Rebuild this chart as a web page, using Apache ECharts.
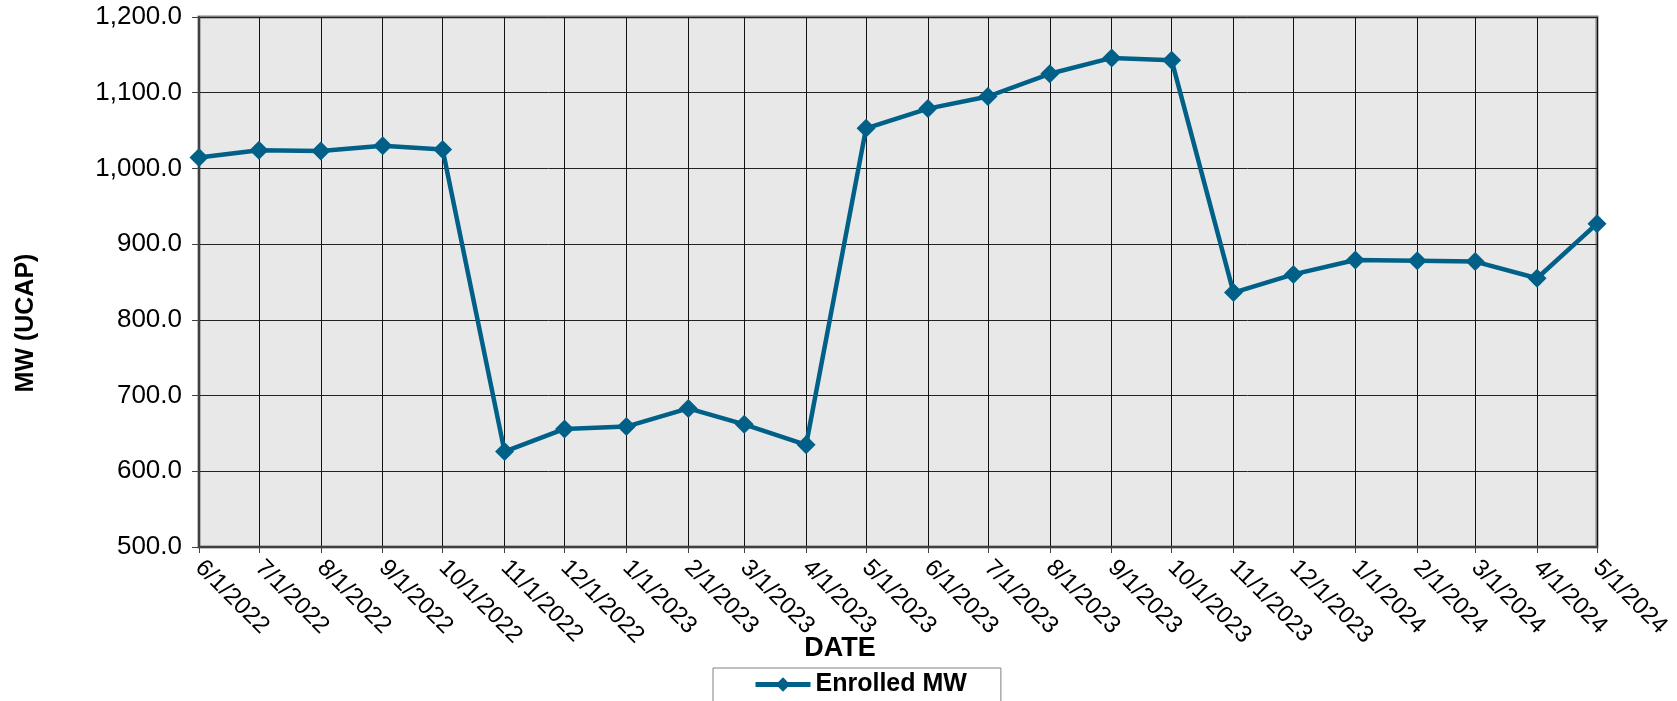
<!DOCTYPE html>
<html>
<head>
<meta charset="utf-8">
<script src="https://cdn.jsdelivr.net/npm/echarts@6/dist/echarts.min.js"></script>
<style>
html,body{margin:0;padding:0;background:#fff;}
#chart{width:1677px;height:701px;}
</style>
</head>
<body>
<div id="chart"></div>
<script>
const dates = ['2022-06-01','2022-07-01','2022-08-01','2022-09-01','2022-10-01','2022-11-01','2022-12-01',
  '2023-01-01','2023-02-01','2023-03-01','2023-04-01','2023-05-01','2023-06-01','2023-07-01','2023-08-01',
  '2023-09-01','2023-10-01','2023-11-01','2023-12-01','2024-01-01','2024-02-01','2024-03-01','2024-04-01','2024-05-01'];
const enrolledMW = [1014.5, 1024, 1023, 1030, 1025, 626, 656, 659, 683, 662, 635, 1053, 1079, 1095, 1125,
  1146, 1143, 836, 860, 879, 878, 877, 855, 927];
const seriesName = 'Enrolled MW';
const yAxisTitle = 'MW (UCAP)';
const xAxisTitle = 'DATE';

const DAY = 86400000;
const chart = echarts.init(document.getElementById('chart'));
const font = '"Liberation Sans", Arial, sans-serif';
chart.setOption({
  animation: false,
  backgroundColor: '#ffffff',
  grid: {
    left: 199, right: 80, top: 17, bottom: 154,
    show: true, backgroundColor: '#e8e8e8', borderColor: '#808080', borderWidth: 3
  },
  xAxis: {
    type: 'time',
    min: '2022-06-01', max: '2024-05-01',
    splitNumber: 23,
    minInterval: 28 * DAY,
    maxInterval: 31 * DAY,
    axisLine: { show: true, lineStyle: { color: '#404040', width: 2 } },
    axisTick: { show: true, length: 6, lineStyle: { color: '#404040', width: 1 } },
    splitLine: { show: true, lineStyle: { color: '#111111', width: 1 } },
    axisLabel: {
      rotate: -45, margin: 17, color: '#000', fontFamily: font, fontSize: 24,
      showMinLabel: true, showMaxLabel: true, hideOverlap: false,
      formatter: function (v) {
        const d = new Date(v);
        return (d.getMonth() + 1) + '/' + d.getDate() + '/' + d.getFullYear();
      }
    }
  },
  yAxis: {
    type: 'value', min: 500, max: 1200, interval: 100,
    axisLine: { show: true, lineStyle: { color: '#404040', width: 2 } },
    axisTick: { show: true, length: 7, lineStyle: { color: '#404040', width: 1 } },
    splitLine: { show: true, lineStyle: { color: '#222222', width: 1 } },
    axisLabel: {
      margin: 17, color: '#000', fontFamily: font, fontSize: 26,
      formatter: function (v) {
        return v.toLocaleString('en-US', { minimumFractionDigits: 1, maximumFractionDigits: 1 });
      }
    }
  },
  legend: {
    show: true, left: 713, top: 668,
    padding: [4, 34, 12, 40],
    borderColor: '#808080', borderWidth: 1, backgroundColor: '#ffffff',
    itemWidth: 55, itemHeight: 18, itemGap: 5,
    lineStyle: { width: 5 },
    textStyle: { fontFamily: font, fontSize: 25, fontWeight: 'bold', color: '#000' },
    data: [seriesName]
  },
  graphic: [
    { type: 'text', x: 26, y: 323, rotation: Math.PI / 2,
      style: { text: yAxisTitle, font: 'bold 25px ' + font, fill: '#000', align: 'center', verticalAlign: 'middle' } },
    { type: 'text', x: 840, y: 649,
      style: { text: xAxisTitle, font: 'bold 27px ' + font, fill: '#000', align: 'center', verticalAlign: 'middle' } }
  ],
  series: [{
    name: seriesName, type: 'line',
    data: dates.map((d, i) => [d, enrolledMW[i]]),
    symbol: 'diamond', symbolSize: 19,
    lineStyle: { color: '#006088', width: 4.5 },
    itemStyle: { color: '#006088' }
  }]
});
</script>
</body>
</html>
